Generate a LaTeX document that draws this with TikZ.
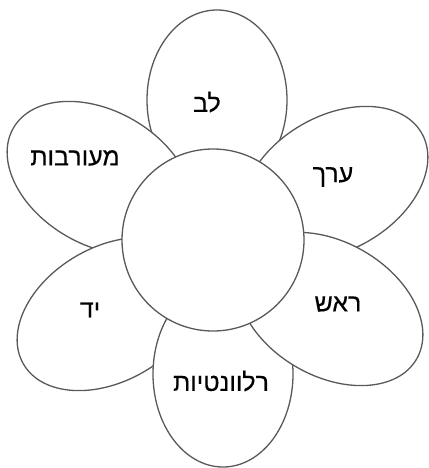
\documentclass[tikz,border=0pt]{standalone}
\usepackage{fontspec}
\newfontfamily\hebfont[Script=Hebrew,FakeBold=0.3]{Liberation Sans}
\TeXXeTstate=1
\begin{document}
\begin{tikzpicture}[x=1pt,y=1pt,
  petal/.style={draw=black!65, line width=1.3pt, fill=white},
  lbl/.style={font=\hebfont\fontsize{25}{28}\selectfont, inner sep=0pt, text=black}]
\useasboundingbox (0,0) rectangle (428,-468);
% petals (drawing order matters)
\draw[petal] (217,-100) ellipse [x radius=70, y radius=90];
\draw[petal] (100,-178) ellipse [x radius=100, y radius=67, rotate=-30];
\draw[petal] (335,-183) ellipse [x radius=100, y radius=67, rotate=30];
\draw[petal] (110,-314) ellipse [x radius=100, y radius=67, rotate=30];
\draw[petal] (223,-374) ellipse [x radius=70, y radius=93];
\draw[petal] (330,-309) ellipse [x radius=100, y radius=67, rotate=-30];
% center
\node[petal, circle, minimum size=182pt, inner sep=0pt] (center) at (213,-240) {};
% labels
\node[lbl] (lev) at (207,-102) {\beginR לב\endR};
\node[lbl] (meoravut) at (75,-158) {\beginR מעורבות\endR};
\node[lbl] (erech) at (333,-177) {\beginR ערך\endR};
\node[lbl] (rosh) at (338,-304) {\beginR ראש\endR};
\node[lbl] (yad) at (90,-310) {\beginR יד\endR};
\node[lbl] (relevantiut) at (221,-381) {\beginR רלוונטיות\endR};
\end{tikzpicture}
\end{document}
